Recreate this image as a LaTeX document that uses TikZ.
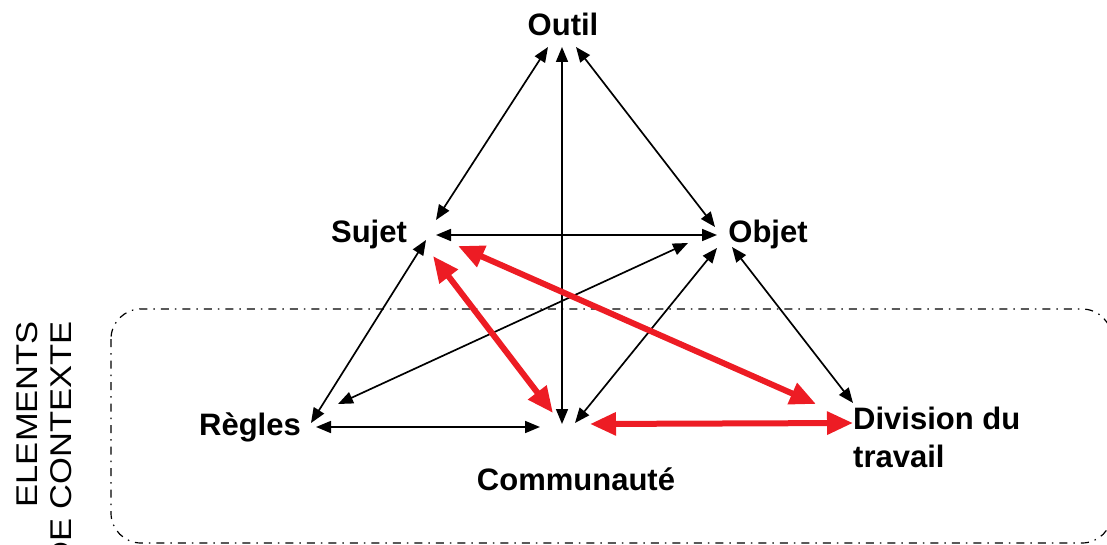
\documentclass[tikz,border=0pt]{standalone}
\usepackage{fontspec}
\setmainfont{Liberation Sans}
\usetikzlibrary{arrows.meta}
\definecolor{arrowred}{RGB}{237,28,36}

\begin{document}
\begin{tikzpicture}[x=1pt,y=-1pt,
	pole/.style={font=\fontsize{31}{38}\selectfont\bfseries,inner sep=0pt},
	link/.style={line width=1.7pt,{Triangle[length=15pt,width=12pt]}-{Triangle[length=15pt,width=12pt]}},
	redlink/.style={line width=6pt,draw=arrowred,{Triangle[length=26pt,width=22pt]}-{Triangle[length=26pt,width=22pt]}}]
	\useasboundingbox (0,0) rectangle (1107,545);
	\clip (0,0) rectangle (1107,545);

	\node[pole,anchor=base] (outil) at (563,36)      {Outil};
	\node[pole,anchor=base] (sujet) at (369,243)     {Sujet};
	\node[pole,anchor=base] (objet) at (768,243)     {Objet};
	\node[pole,anchor=base] (regles) at (250,435)    {Règles};
	\node[pole,anchor=base] (communaute) at (576,490) {Communauté};
	\node[pole,anchor=base west,align=left] (division) at (853,467) {Division du\\travail};

	\draw[line width=1.2pt,dash pattern=on 8pt off 6pt on 1.5pt off 6pt,rounded corners=30pt] (111,309) rectangle (1112,543);
	\node[rotate=90,xscale=1.15,anchor=south east,align=right,inner sep=0pt,font=\fontsize{30}{34}\selectfont] (contexte) at (72,321) {ELEMENTS\\DE CONTEXTE};

	\coordinate (ou-su) at (548,47);
	\coordinate (su-ou) at (436,220);
	\coordinate (ou-co) at (562,47);
	\coordinate (co-ou) at (562,424);
	\coordinate (ou-ob) at (576,47);
	\coordinate (ob-ou) at (715,227);
	\coordinate (su-ob) at (436,235);
	\coordinate (ob-su) at (717,235);
	\coordinate (su-re) at (426,240);
	\coordinate (re-su) at (311,423);
	\coordinate (ob-re) at (688,243);
	\coordinate (re-ob) at (338,404);
	\coordinate (re-co) at (316,427);
	\coordinate (co-re) at (540,427);
	\coordinate (ob-co) at (717,248);
	\coordinate (co-ob) at (575,423);
	\coordinate (ob-di) at (732,247);
	\coordinate (di-ob) at (853,403);
	\coordinate (su-co) at (433,256);
	\coordinate (co-su) at (553,413);
	\coordinate (su-di) at (458,246);
	\coordinate (di-su) at (816,404);
	\coordinate (co-di) at (590,424);
	\coordinate (di-co) at (853,423);

	\draw[link] (ou-su) -- (su-ou);
	\draw[link] (ou-co) -- (co-ou);
	\draw[link] (ou-ob) -- (ob-ou);
	\draw[link] (su-ob) -- (ob-su);
	\draw[link] (su-re) -- (re-su);
	\draw[link] (ob-re) -- (re-ob);
	\draw[link] (re-co) -- (co-re);
	\draw[link] (ob-co) -- (co-ob);
	\draw[link] (ob-di) -- (di-ob);

	\draw[redlink] (su-co) -- (co-su);
	\draw[redlink] (su-di) -- (di-su);
	\draw[redlink] (co-di) -- (di-co);
\end{tikzpicture}
\end{document}
